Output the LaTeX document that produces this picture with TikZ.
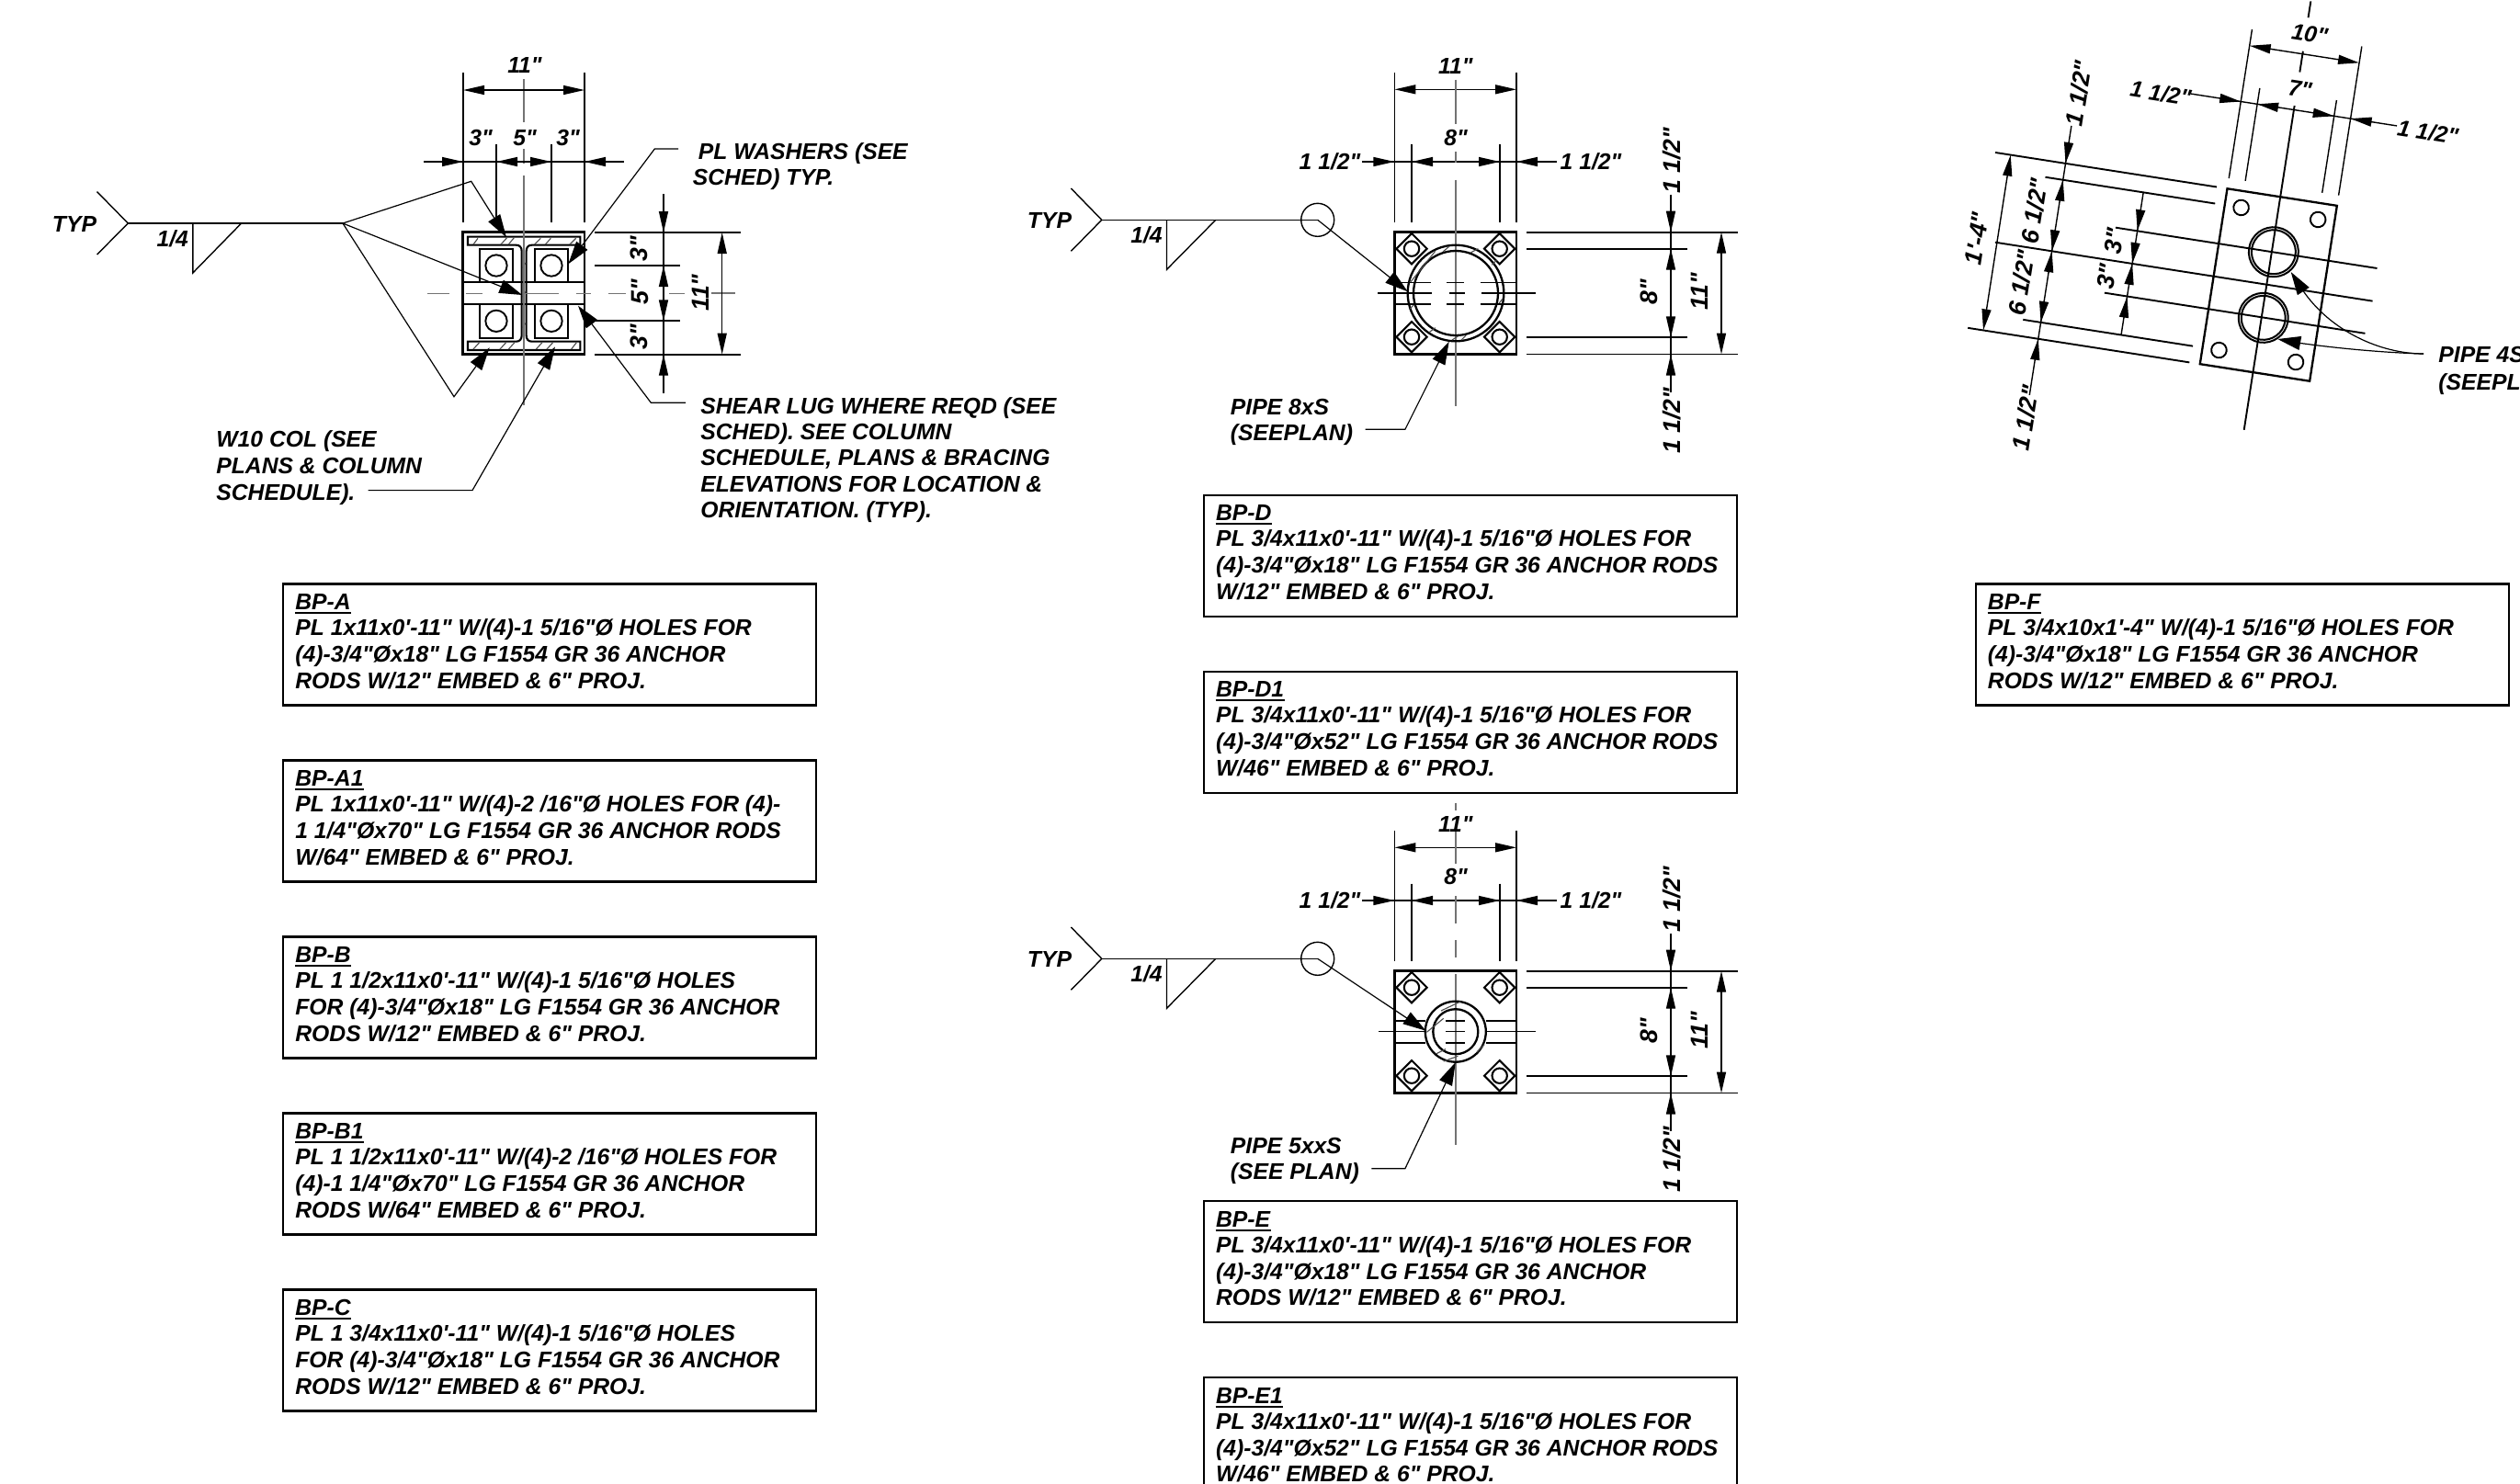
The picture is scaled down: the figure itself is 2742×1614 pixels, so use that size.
\documentclass[tikz,border=0pt]{standalone}
\usepackage{fontspec}
\usetikzlibrary{arrows.meta,calc}
\newfontfamily\cadfont{Liberation Sans}
\tikzset{
 cad/.style={font=\cadfont\bfseries\itshape\fontsize{12.35pt}{14.5pt}\selectfont,inner sep=0pt,text=black},
 rotf/.style={rotate=90,font=\cadfont\bfseries\itshape\fontsize{13.3pt}{14.5pt}\selectfont},
 thinl/.style={line width=.7pt,black},
 midl/.style={line width=.95pt,black},
 obj/.style={line width=1.3pt,black},
 cen/.style={line width=.8pt,black!55},
 hatchl/.style={line width=.55pt,black!70},
 dimtip/.style={line width=.7pt,black,-{Triangle[length=11.5pt,width=5pt]}},
 dimboth/.style={line width=.7pt,black,{Triangle[length=11.5pt,width=5pt]}-{Triangle[length=11.5pt,width=5pt]}},
 leadtip/.style={line width=.6pt,black,-{Triangle[length=12.5pt,width=7.5pt]}},
 leader/.style={line width=.6pt,black},
 bpframe/.style={draw=black,line width=1.1pt,anchor=north west,inner sep=0pt,minimum width=290pt,minimum height=66pt,fill=white},
}
\newcommand\txt[5][]{\node[cad,#1] (#2) at (#3,#4) {#5};}
\newcommand\lft[4]{\node[cad,anchor=base west] (#1) at (#2,#3) {#4};}
\newcommand\tip[2]{\draw[dimtip] (#1) -- (#2);}
\newcommand\bpbox[7]{%
 \node[bpframe] (#1) at (#2,#3) {};
 \node[cad,anchor=base west] (#1t) at ($(#1.north west)+(14,29)$) {#4};
 \draw[line width=1pt] ([yshift=-1.8pt]#1t.base west) -- ([yshift=-1.8pt]#1t.base east);
 \node[cad,anchor=base west] (#1a) at ($(#1.north west)+(14,57)$) {#5};
 \node[cad,anchor=base west] (#1b) at ($(#1.north west)+(14,86)$) {#6};
 \node[cad,anchor=base west] (#1c) at ($(#1.north west)+(14,114.7)$) {#7};
}
% plate with diamonds, weld symbol and side dimensions (details D, E)
\newcommand\platedetail[1]{%
 \draw[thinl] (1165.4,205) -- (1198.8,239.3) -- (1165.4,273.3);
 \draw[thinl] (1198.8,239.3) -- (1433.7,239.3);
 \draw[thinl] (1269.5,239.3) -- (1269.5,293.3) -- (1322.8,239.3);
 \draw[thinl] (1433.7,239.3) circle (18);
 \txt{#1typ}{1142}{240}{TYP}
 \txt{#1fil}{1247.5}{256}{1/4}
 \draw[obj] (1517.4,252.7) rectangle (1650,385.5);
 \foreach \cx/\cy in {1536/270.7,1631.7/270.7,1536/366.7,1631.7/366.7}{
  \draw[line width=1.05pt] (\cx-16.7,\cy) -- (\cx,\cy-16.7) -- (\cx+16.7,\cy) -- (\cx,\cy+16.7) -- cycle;
  \draw[line width=1.05pt] (\cx,\cy) circle (8.2);
 }
 \foreach \yy in {252.7,385.5}{\draw[midl] (1661,\yy) -- (1891,\yy);}
 \foreach \yy in {270.7,367.3}{\draw[midl] (1661,\yy) -- (1836.4,\yy);}
 \draw[thinl] (1818,211.7) -- (1818,426.7);
 \tip{1818,229}{1818,252.7}
 \tip{1818,294}{1818,270.7}
 \tip{1818,344}{1818,367.3}
 \tip{1818,409}{1818,385.5}
 \draw[dimboth] (1873,252.7) -- (1873,385.5);
 \txt[rotf]{#1da}{1819}{175}{1 1/2"}
 \txt[rotf]{#1db}{1819}{458}{1 1/2"}
 \txt[rotf]{#1dc}{1794}{318}{8"}
 \txt[rotf]{#1dd}{1849}{317}{11"}
}
% top dimension chain of details D, E
\newcommand\topdims[6]{%
 \draw[thinl] (1517.4,#2) -- (1517.4,241.7+#6);
 \draw[thinl] (1650,#2) -- (1650,241.7+#6);
 \draw[thinl] (1536,#4) -- (1536,241.7+#6);
 \draw[thinl] (1632,#4) -- (1632,241.7+#6);
 \draw[dimboth] (1517.4,#3) -- (1650,#3);
 \draw[thinl] (1481.8,#5) -- (1693.6,#5);
 \tip{1492,#5}{1517.4,#5}
 \tip{1560,#5}{1536,#5}
 \tip{1608,#5}{1632,#5}
 \tip{1675,#5}{1650,#5}
 \txt{#1a}{1583.8}{#3-25.5}{11"}
 \txt{#1b}{1584}{#5-26}{8"}
 \txt{#1c}{1447}{#5}{1 1/2"}
 \txt{#1d}{1731}{#5}{1 1/2"}
}
\begin{document}
\begin{tikzpicture}[x=0.5pt,y=-0.5pt]
\useasboundingbox (0,0) rectangle (2742,1614);
\clip (0,0) rectangle (2742,1614);
\fill[white] (0,0) rectangle (2742,1614);

%%%%%%%% DETAIL A
\begin{scope}[shift={(440,180)},scale=0.33333]
 \draw[obj] (190,218) rectangle (588,617);
 \draw[line width=1.05pt] (365,260) -- (207,260) -- (207,233) -- (574,233) -- (574,260) -- (416,260) .. controls (404,260) and (398,268) .. (398,280) -- (398,555) .. controls (398,567) and (404,575) .. (416,575) -- (574,575) -- (574,603) -- (207,603) -- (207,575) -- (365,575) .. controls (377,575) and (383,567) .. (383,555) -- (383,280) .. controls (383,268) and (377,260) .. (365,260);
 \foreach \xa/\ya/\xb/\yb in {225/258/240/238,315/258/335/236,340/258/358/236,425/258/445/238,460/258/478/238,540/258/560/238,225/600/245/578,312/600/332/578,340/600/360/578,430/600/450/578,465/600/485/578,545/600/562/578,385/335/396/318,385/430/396/412,385/530/396/515}{\draw[hatchl] (\xa,\ya) -- (\xb,\yb);}
 \foreach \xc/\yc in {300/327,480/327,300/508,480/508}{
  \draw[line width=1.05pt] (\xc-54,\yc-55) rectangle (\xc+55,\yc+55);
  \draw[line width=.95pt] (\xc,\yc) circle (35);
 }
 \draw[midl] (190,381) -- (383,381) (360,381) -- (420,381) (398,381) -- (588,381);
 \draw[midl] (190,453) -- (383,453) (360,453) -- (420,453) (398,453) -- (588,453);
 \draw[cen] (75,418) -- (148,418) (200,418) -- (255,418) (395,418) -- (505,418) (560,418) -- (610,418) (665,418) -- (722,418) (865,418) -- (915,418);
\end{scope}
\draw[cen] (774,319) -- (800,319);
\draw[cen] (570,86) -- (570,133) (570,162) -- (570,178) (570,191) -- (570,441);
% top dims
\draw[thinl] (504,79) -- (504,241.7);
\draw[thinl] (636,79) -- (636,241.7);
\draw[thinl] (540,157) -- (540,241.7);
\draw[thinl] (600,157) -- (600,241.7);
\draw[dimboth] (504,98) -- (636,98);
\draw[thinl] (461,176) -- (679,176);
\tip{481,176}{504,176}
\tip{563,176}{540,176}
\tip{577,176}{600,176}
\tip{660,176}{636,176}
\txt{aA}{571}{71}{11"}
\txt{aB}{523}{150}{3"}
\txt{aC}{571}{150}{5"}
\txt{aD}{618}{150}{3"}
% right dims
\foreach \yy in {253,385.7}{\draw[midl] (647,\yy) -- (805.5,\yy);}
\foreach \yy in {289,349.3}{\draw[midl] (647,\yy) -- (740,\yy);}
\draw[thinl] (722,211) -- (722,428);
\tip{722,230}{722,253}
\tip{722,312}{722,289}
\tip{722,326}{722,349.3}
\tip{722,409}{722,385.7}
\draw[dimboth] (785.7,253) -- (785.7,385.7);
\txt[rotf]{aE}{695}{271}{3"}
\txt[rotf]{aF}{696}{318}{5"}
\txt[rotf]{aG}{695}{367}{3"}
\txt[rotf]{aH}{762}{318.6}{11"}
% weld
\draw[thinl] (105.6,208.6) -- (139.3,243) -- (105.6,277);
\draw[thinl] (139.3,243) -- (373,243);
\draw[thinl] (209.8,243) -- (209.8,297) -- (262.6,243);
\txt{aTyp}{81}{244}{TYP}
\txt{aFil}{187.7}{260}{1/4}
\draw[leadtip] (373,243) -- (512.7,197.3) -- (551,258.3);
\draw[leadtip] (373,243) -- (568.3,321);
\draw[leadtip] (373,243) -- (494,431.7) -- (532.7,378.3);
\draw[leadtip] (400.5,533.6) -- (514,533.6) -- (604,377.3);
\draw[leadtip] (738,162) -- (712.3,162) -- (618.3,287.3);
\draw[leadtip] (746,438.3) -- (708.3,438.3) -- (629,332.7);
\lft{aL1}{759.5}{173}{PL WASHERS (SEE}
\lft{aL2}{753.5}{201.5}{SCHED) TYP.}
\lft{aS1}{762}{450}{SHEAR LUG WHERE REQD (SEE}
\lft{aS2}{762}{478}{SCHED). SEE COLUMN}
\lft{aS3}{762}{506.5}{SCHEDULE, PLANS \& BRACING}
\lft{aS4}{762}{535}{ELEVATIONS FOR LOCATION \&}
\lft{aS5}{762}{563.5}{ORIENTATION. (TYP).}
\lft{aW1}{235}{486.5}{W10 COL (SEE}
\lft{aW2}{235}{515.5}{PLANS \& COLUMN}
\lft{aW3}{235}{544}{SCHEDULE).}

%%%%%%%% DETAIL D
\platedetail{d}
\topdims{dt}{79.3}{97.3}{157.3}{176}{0}
\draw[cen] (1584,86.7) -- (1584,135) (1584,165) -- (1584,177) (1584,195.7) -- (1584,441.7);
\begin{scope}[shift={(1480,230)},scale=0.33333]
 \draw[line width=1.15pt] (312,267) circle (157);
 \draw[line width=1.15pt] (312,267) circle (138);
 \foreach \xa/\ya/\xb/\yb in {270/132/290/115,360/135/385/122,430/175/445/160,450/305/465/285,160/320/175/305,225/395/245/380,330/420/345/405,300/420/320/407,165/230/245/130}{\draw[hatchl] (\xa,\ya) -- (\xb,\yb);}
 \foreach \yy in {232,303}{\draw[thinl] (118,\yy) -- (230,\yy) (283,\yy) -- (338,\yy) (392,\yy) -- (510,\yy);}
 \draw[thinl] (58,267) -- (235,267) (290,267) -- (343,267) (397,267) -- (573,267);
\end{scope}
\draw[leadtip] (1433.7,239.3) -- (1531.7,317.3);
\draw[leadtip] (1485.5,467.3) -- (1528.9,467.3) -- (1576.7,371.7);
\lft{dP1}{1338.5}{451}{PIPE 8xS}
\lft{dP2}{1338.5}{479.5}{(SEEPLAN)}

%%%%%%%% DETAIL E
\begin{scope}[shift={(0,804)}]
 \platedetail{e}
\end{scope}
\topdims{et}{904}{922.3}{961.7}{980}{804}
\draw[cen] (1584,873.7) -- (1584,881.7) (1584,905) -- (1584,940) (1584,975) -- (1584,1005) (1584,1023) -- (1584,1042) (1584,1060) -- (1584,1246);
\draw[line width=1.15pt] (1583.8,1122.7) circle (33);
\draw[line width=1.15pt] (1583.8,1122.7) circle (24.5);
\foreach \xa/\ya/\xb/\yb in {1552.4/1123.3/1570.7/1108.3,1568/1100/1589/1090,1607/1145/1615/1136.7,1563/1146.7/1573/1141.7,1570.7/1155/1586.4/1149.3}{\draw[hatchl] (\xa,\ya) -- (\xb,\yb);}
\foreach \yy in {1111,1135}{\draw[thinl] (1517.4,\yy) -- (1551,\yy) (1573,\yy) -- (1594,\yy) (1617,\yy) -- (1650,\yy);}
\draw[thinl] (1500,1122.7) -- (1551,1122.7) (1573,1122.7) -- (1594,1122.7) (1617,1122.7) -- (1671,1122.7);
\draw[leadtip] (1433.7,1043.3) -- (1551.4,1121.7);
\draw[leadtip] (1492.3,1271.7) -- (1528.9,1271.7) -- (1583.8,1156);
\lft{eP1}{1338.5}{1255}{PIPE 5xxS}
\lft{eP2}{1338.5}{1283}{(SEE PLAN)}

%%%%%%%% DETAIL F
\begin{scope}[shift={(2468.3,310)},rotate=-8.85]
 \draw[midl,line width=1.15pt] (-60.4,-96.6) rectangle (60.4,96.6);
 \foreach \pa/\pb in {-42.3/-78.5,42.3/-78.5,-42.3/78.5,42.3/78.5}{\draw[midl] (\pa,\pb) circle (8.3);}
 \foreach \pb in {-36.24,36.24}{
  \draw[line width=1pt] (0,\pb) circle (27);
  \draw[line width=1pt] (0,\pb) circle (24);
 }
 \draw[midl] (-2,-312) -- (-2,-294) (-2,-257) -- (-2,-234) (-2,-197) -- (-2,160);
 \draw[midl] (-174,-36) -- (114,-36) (-301,0) -- (114.6,0) (-175,36) -- (112,36);
 \draw[midl] (-316,-96.6) -- (-72,-96.6) (-258,-78.5) -- (-71,-78.5) (-258,78.5) -- (-71,78.5) (-316,96.6) -- (-72,96.6);
 \draw[thinl] (-60.4,-272) -- (-60.4,-108) (60.4,-272) -- (60.4,-108) (-42.3,-210) -- (-42.3,-108) (42.3,-210) -- (42.3,-108);
 \draw[dimboth] (-60.4,-254) -- (60.4,-254);
 \draw[thinl] (-115.6,-192.5) -- (111.4,-192.5);
 \tip{-84,-192.5}{-60.4,-192.5}
 \tip{-19,-192.5}{-42.3,-192.5}
 \tip{19,-192.5}{42.3,-192.5}
 \tip{84,-192.5}{60.4,-192.5}
 \draw[dimboth] (-299,-96.6) -- (-299,96.6);
 \draw[thinl] (-238.5,-138) -- (-238.5,158.5);
 \tip{-238.5,-120}{-238.5,-96.6}
 \tip{-238.5,-55}{-238.5,-78.5}
 \tip{-238.5,-23.5}{-238.5,0}
 \tip{-238.5,23.5}{-238.5,0}
 \tip{-238.5,55}{-238.5,78.5}
 \tip{-238.5,120}{-238.5,96.6}
 \draw[thinl] (-150,-78.5) -- (-150,78.5);
 \tip{-150,-59.5}{-150,-36.24}
 \tip{-150,-23.5}{-150,0}
 \tip{-150,23.5}{-150,0}
 \tip{-150,59.5}{-150,36.24}
 \txt[transform shape]{fA}{2.4}{-277}{10"}
 \txt[transform shape]{fB}{1.2}{-216}{7"}
 \txt[transform shape]{fC}{-148}{-188}{1 1/2"}
 \txt[transform shape]{fD}{146}{-190.7}{1 1/2"}
 \txt[transform shape,rotf]{fE}{-321}{-1}{1'-4"}
 \txt[transform shape,rotf]{fF}{-236}{-174}{1 1/2"}
 \txt[transform shape,rotf]{fG}{-238.7}{184}{1 1/2"}
 \txt[transform shape,rotf]{fH}{-264}{-40}{6 1/2"}
 \txt[transform shape,rotf]{fI}{-266}{39}{6 1/2"}
 \txt[transform shape,rotf]{fJ}{-173}{-21}{3"}
 \txt[transform shape,rotf]{fK}{-175}{18}{3"}
\end{scope}
\draw[leader] (2637,385) .. controls (2590,385) and (2535,360) .. (2505,315);
\draw[leader] (2637,385) .. controls (2600,384) and (2550,380) .. (2502,373.3);
\draw[leadtip] (2505,315) -- (2492.7,296);
\draw[leadtip] (2502,373.3) -- (2478.3,369);
\lft{fP1}{2653}{394.5}{PIPE 4S}
\lft{fP2}{2653}{424}{(SEEPL}

%%%%%%%% SCHEDULE BOXES
\bpbox{bpA}{307}{634.3}{BP-A}{PL 1x11x0'-11" W/(4)-1 5/16"Ø HOLES FOR}{(4)-3/4"Øx18" LG F1554 GR 36 ANCHOR}{RODS W/12" EMBED \& 6" PROJ.}
\bpbox{bpAa}{307}{826.3}{BP-A1}{PL 1x11x0'-11" W/(4)-2 /16"Ø HOLES FOR (4)-}{1 1/4"Øx70" LG F1554 GR 36 ANCHOR RODS}{W/64" EMBED \& 6" PROJ.}
\bpbox{bpB}{307}{1018.3}{BP-B}{PL 1 1/2x11x0'-11" W/(4)-1 5/16"Ø HOLES}{FOR (4)-3/4"Øx18" LG F1554 GR 36 ANCHOR}{RODS W/12" EMBED \& 6" PROJ.}
\bpbox{bpBa}{307}{1210.3}{BP-B1}{PL 1 1/2x11x0'-11" W/(4)-2 /16"Ø HOLES FOR}{(4)-1 1/4"Øx70" LG F1554 GR 36 ANCHOR}{RODS W/64" EMBED \& 6" PROJ.}
\bpbox{bpC}{307}{1402.3}{BP-C}{PL 1 3/4x11x0'-11" W/(4)-1 5/16"Ø HOLES}{FOR (4)-3/4"Øx18" LG F1554 GR 36 ANCHOR}{RODS W/12" EMBED \& 6" PROJ.}
\bpbox{bpD}{1308.7}{537.5}{BP-D}{PL 3/4x11x0'-11" W/(4)-1 5/16"Ø HOLES FOR}{(4)-3/4"Øx18" LG F1554 GR 36 ANCHOR RODS}{W/12" EMBED \& 6" PROJ.}
\bpbox{bpDa}{1308.7}{729.5}{BP-D1}{PL 3/4x11x0'-11" W/(4)-1 5/16"Ø HOLES FOR}{(4)-3/4"Øx52" LG F1554 GR 36 ANCHOR RODS}{W/46" EMBED \& 6" PROJ.}
\bpbox{bpE}{1308.7}{1306}{BP-E}{PL 3/4x11x0'-11" W/(4)-1 5/16"Ø HOLES FOR}{(4)-3/4"Øx18" LG F1554 GR 36 ANCHOR}{RODS W/12" EMBED \& 6" PROJ.}
\bpbox{bpEa}{1308.7}{1498}{BP-E1}{PL 3/4x11x0'-11" W/(4)-1 5/16"Ø HOLES FOR}{(4)-3/4"Øx52" LG F1554 GR 36 ANCHOR RODS}{W/46" EMBED \& 6" PROJ.}
\bpbox{bpF}{2148.5}{634.3}{BP-F}{PL 3/4x10x1'-4" W/(4)-1 5/16"Ø HOLES FOR}{(4)-3/4"Øx18" LG F1554 GR 36 ANCHOR}{RODS W/12" EMBED \& 6" PROJ.}
\end{tikzpicture}
\end{document}
